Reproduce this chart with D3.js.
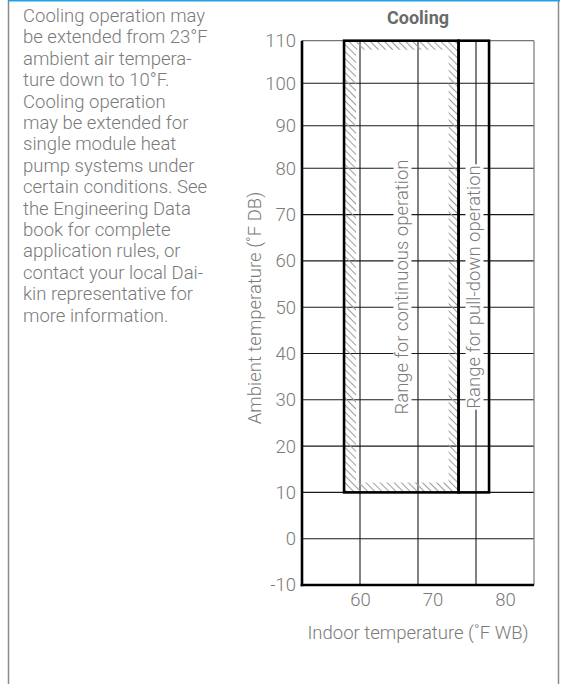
<!DOCTYPE html>
<html><head><meta charset="utf-8">
<script src="https://cdn.jsdelivr.net/npm/d3@7"></script>
<style>
html,body{margin:0;padding:0;background:#fff;}
svg{display:block;}
</style></head>
<body>
<svg id="chart" width="564" height="684"></svg>
<script>
// ---- data ----
const noteLines = [
  "Cooling operation may",
  "be extended from 23°F",
  "ambient air tempera-",
  "ture down to 10°F.",
  "Cooling operation",
  "may be extended for",
  "single module heat",
  "pump systems under",
  "certain conditions. See",
  "the Engineering Data",
  "book for complete",
  "application rules, or",
  "contact your local Dai-",
  "kin representative for",
  "more information."
];
const chartTitle = "Cooling";
const xLabel = "Indoor temperature (˚F WB)";
const yLabel = "Ambient temperature (˚F DB)";
const xDomain = [52, 84];
const xTickValues = [60, 70, 80];
const xGridValues = [60, 68, 76];
const yDomain = [-10, 80, 110];
const yTickValues = [-10, 0, 10, 20, 30, 40, 50, 60, 70, 80, 90, 100, 110];
const continuousRange = {x0: 57.8, x1: 73.6, y0: 10, y1: 110, label: "Range for continuous operation"};
const pullDownRange = {x0: 73.6, x1: 77.8, y0: 10, y1: 110, label: "Range for pull-down operation"};

// ---- drawing ----
const svg = d3.select("#chart");
const FONT = "Roboto, 'Liberation Sans', Arial, sans-serif";
const TXT = "#7a7a7a";
const FS = 18.5;

// frame
svg.append("line").attr("x1",8.5).attr("x2",8.5).attr("y1",0).attr("y2",684).attr("stroke","#8a8a8a").attr("stroke-width",1.5);
svg.append("line").attr("x1",558.5).attr("x2",558.5).attr("y1",0).attr("y2",684).attr("stroke","#8a8a8a").attr("stroke-width",1.5);
svg.append("line").attr("x1",8).attr("x2",560).attr("y1",0.75).attr("y2",0.75).attr("stroke","#1ea2e0").attr("stroke-width",1.5);

// note text
const note = svg.append("text").attr("font-family",FONT).attr("font-weight",300)
  .attr("font-size",FS).attr("fill",TXT);
note.selectAll("tspan").data(noteLines).join("tspan")
  .attr("x",23).attr("y",(d,i)=>22 + i*21.4).text(d=>d);

const x = d3.scaleLinear().domain(xDomain).range([302, 534]);
const y = d3.scaleLinear().domain(yDomain).range([585, 168.3, 40.7]);

// hatch pattern
const defs = svg.append("defs");
const pat = defs.append("pattern").attr("id","hatch").attr("patternUnits","userSpaceOnUse")
  .attr("width",5).attr("height",5).attr("patternTransform","rotate(45) ");
pat.append("line").attr("x1",0).attr("x2",5).attr("y1",2.5).attr("y2",2.5)
  .attr("stroke","#a0a0a0").attr("stroke-width",1.1);

const g = svg.append("g");

// gridlines
g.selectAll("line.hg").data(yTickValues.filter(v=>v!==yDomain[0] && v!==yDomain[2])).join("line")
  .attr("class","hg").attr("x1",x(xDomain[0])).attr("x2",x(xDomain[1]))
  .attr("y1",d=>y(d)).attr("y2",d=>y(d)).attr("stroke","#1a1a1a").attr("stroke-width",1.1);
g.selectAll("line.vg").data(xGridValues).join("line")
  .attr("class","vg").attr("y1",y(yDomain[0])).attr("y2",y(yDomain[2]))
  .attr("x1",d=>x(d)).attr("x2",d=>x(d)).attr("stroke","#1a1a1a").attr("stroke-width",1.1);

// top & right borders (thin gray)
g.append("line").attr("x1",x(xDomain[0])).attr("x2",x(xDomain[1])).attr("y1",y(yDomain[2])).attr("y2",y(yDomain[2]))
  .attr("stroke","#777").attr("stroke-width",1.2);
g.append("line").attr("x1",x(xDomain[1])).attr("x2",x(xDomain[1])).attr("y1",y(yDomain[2])).attr("y2",y(yDomain[0]))
  .attr("stroke","#777").attr("stroke-width",1.2);

// hatched frame inside continuous range
const cx0 = x(continuousRange.x0), cx1 = x(continuousRange.x1), cy0 = y(continuousRange.y1), cy1 = y(continuousRange.y0);
const hp = d3.path();
hp.rect(cx0, cy0, cx1-cx0, cy1-cy0);
hp.rect(cx0+12, cy0+9, (cx1-cx0)-22, (cy1-cy0)-19);
g.append("path").attr("d",hp.toString()).attr("fill","url(#hatch)").attr("fill-rule","evenodd");

// range labels with white backgrounds
function rangeLabel(r, cxp){
  const cyp = 287;
  const grp = g.append("g").attr("transform",`translate(${cxp},${cyp}) rotate(-90)`);
  const t = grp.append("text").attr("text-anchor","middle").attr("dy","0.35em")
    .attr("font-family",FONT).attr("font-weight",300).attr("font-size",FS).attr("fill",TXT).text(r.label);
  const b = t.node().getBBox();
  grp.insert("rect","text").attr("x",b.x-1).attr("y",b.y+2).attr("width",b.width+2).attr("height",b.height-4).attr("fill","#fff");
}
rangeLabel(continuousRange, 402);
rangeLabel(pullDownRange, 474);

// range boxes (thick)
[continuousRange, pullDownRange].forEach(r=>{
  g.append("rect").attr("x",x(r.x0)).attr("y",y(r.y1)).attr("width",x(r.x1)-x(r.x0)).attr("height",y(r.y0)-y(r.y1))
    .attr("fill","none").attr("stroke","#000").attr("stroke-width",2.6);
});

// axes lines (thick)
g.append("line").attr("x1",x(xDomain[0])).attr("x2",x(xDomain[0])).attr("y1",y(yDomain[2])).attr("y2",y(yDomain[0])+1.3)
  .attr("stroke","#000").attr("stroke-width",2.6);
g.append("line").attr("x1",x(xDomain[0])-1.3).attr("x2",x(xDomain[1])).attr("y1",y(yDomain[0])).attr("y2",y(yDomain[0]))
  .attr("stroke","#000").attr("stroke-width",2.6);

// axes labels via d3 axes
const yAxis = d3.axisLeft(y).tickValues(yTickValues).tickSize(0).tickPadding(6).tickFormat(d=>String(d));
const ya = g.append("g").attr("transform",`translate(${x(xDomain[0])},0)`).call(yAxis);
ya.select(".domain").remove();
ya.selectAll("text").attr("font-family",FONT).attr("font-weight",300).attr("font-size",FS).attr("fill",TXT);

const xAxis = d3.axisBottom(x).tickValues(xTickValues).tickSize(0).tickPadding(8).tickFormat(d=>String(d));
const xa = g.append("g").attr("transform",`translate(0,${y(yDomain[0])})`).call(xAxis);
xa.select(".domain").remove();
xa.selectAll("text").attr("font-family",FONT).attr("font-weight",300).attr("font-size",FS).attr("fill",TXT);

// title
svg.append("text").attr("x",418).attr("y",24).attr("text-anchor","middle")
  .attr("font-family",FONT).attr("font-weight",700).attr("font-size",18).attr("fill","#6a6a6a").text(chartTitle);

// axis titles
svg.append("text").attr("x",418).attr("y",639).attr("text-anchor","middle")
  .attr("font-family",FONT).attr("font-weight",300).attr("font-size",FS).attr("fill",TXT).text(xLabel);
svg.append("text").attr("transform","translate(261,308) rotate(-90)").attr("text-anchor","middle")
  .attr("font-family",FONT).attr("font-weight",300).attr("font-size",FS).attr("fill",TXT).text(yLabel);
</script>
</body></html>
